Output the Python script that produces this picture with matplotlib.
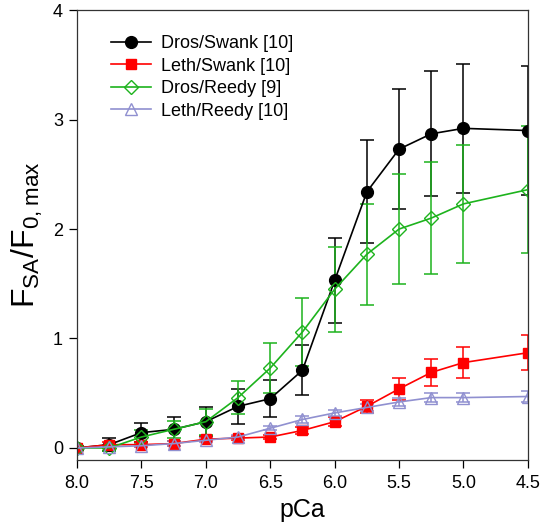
import matplotlib
matplotlib.use("Agg")
import matplotlib.pyplot as plt
from matplotlib.lines import Line2D

plt.rcParams['font.family'] = ['Liberation Sans', 'DejaVu Sans']
plt.rcParams['mathtext.default'] = 'regular'

pca = [8.0, 7.75, 7.5, 7.25, 7.0, 6.75, 6.5, 6.25, 6.0, 5.75, 5.5, 5.25, 5.0, 4.5]

dros_swank = [0.0, 0.03, 0.14, 0.17, 0.24, 0.38, 0.45, 0.71, 1.53, 2.34, 2.73, 2.87, 2.92, 2.90]
dros_swank_err = [0.02, 0.06, 0.09, 0.11, 0.13, 0.16, 0.17, 0.23, 0.39, 0.47, 0.55, 0.57, 0.59, 0.59]

leth_swank = [0.0, 0.03, 0.03, 0.04, 0.08, 0.09, 0.10, 0.16, 0.24, 0.38, 0.54, 0.69, 0.78, 0.87]
leth_swank_err = [0.01, 0.02, 0.02, 0.02, 0.02, 0.02, 0.02, 0.03, 0.04, 0.06, 0.10, 0.12, 0.14, 0.16]

dros_reedy = [0.0, 0.0, 0.10, 0.17, 0.24, 0.46, 0.73, 1.06, 1.45, 1.77, 2.00, 2.10, 2.23, 2.36]
dros_reedy_err = [0.02, 0.03, 0.06, 0.08, 0.12, 0.15, 0.23, 0.31, 0.39, 0.46, 0.50, 0.51, 0.54, 0.58]

leth_reedy = [0.0, 0.01, 0.02, 0.04, 0.07, 0.10, 0.18, 0.26, 0.32, 0.37, 0.42, 0.46, 0.46, 0.47]
leth_reedy_err = [0.01, 0.01, 0.01, 0.02, 0.02, 0.02, 0.02, 0.03, 0.03, 0.03, 0.04, 0.04, 0.04, 0.05]

labels = ['Dros/Swank [10]', 'Leth/Swank [10]', 'Dros/Reedy [9]', 'Leth/Reedy [10]']

fig = plt.figure(figsize=(5.4, 5.28), dpi=100)
ax = fig.add_axes([0.1426, 0.1288, 0.835, 0.852])

common = dict(capsize=5, elinewidth=1.1, capthick=1.1, lw=1.2)
styles = [
    dict(color='black', marker='o', ms=8.5, mfc='black', mec='black'),
    dict(color='#ff0000', marker='s', ms=6.5, mfc='#ff0000', mec='#ff0000'),
    dict(color='#1db31d', marker='D', ms=7, mfc='none', mec='#1db31d'),
    dict(color='#9090d0', marker='^', ms=8, mfc='none', mec='#9090d0'),
]
series = [(dros_swank, dros_swank_err), (leth_swank, leth_swank_err),
          (dros_reedy, dros_reedy_err), (leth_reedy, leth_reedy_err)]

handles = []
for (vals, errs), st, lab in zip(series, styles, labels):
    ax.errorbar(pca, vals, yerr=errs, **st, **common)
    handles.append(Line2D([], [], lw=1.2, **st, label=lab))

ax.set_xlim(8.0, 4.5)
ax.set_ylim(-0.11, 4.0)
ax.set_xticks([8.0, 7.5, 7.0, 6.5, 6.0, 5.5, 5.0, 4.5])
ax.set_xticklabels(['8.0', '7.5', '7.0', '6.5', '6.0', '5.5', '5.0', '4.5'])
ax.set_yticks([0, 1, 2, 3, 4])
ax.tick_params(direction='out', length=6, width=0.9, labelsize=13)
ax.tick_params(axis='x', pad=5)
ax.tick_params(axis='y', pad=4)
for s in ax.spines.values():
    s.set_linewidth(0.9)
    s.set_color('#333333')

ax.set_xlabel('pCa', fontsize=18, labelpad=4)
ax.set_ylabel('$F_{SA}/F_{0,max}$', fontsize=23, labelpad=6)

ax.legend(handles=handles, loc='upper left', bbox_to_anchor=(0.04, 0.98), frameon=False,
          fontsize=13, handlelength=2.2, handletextpad=0.55, labelspacing=0.3)

fig.savefig('out.png', dpi=100)
